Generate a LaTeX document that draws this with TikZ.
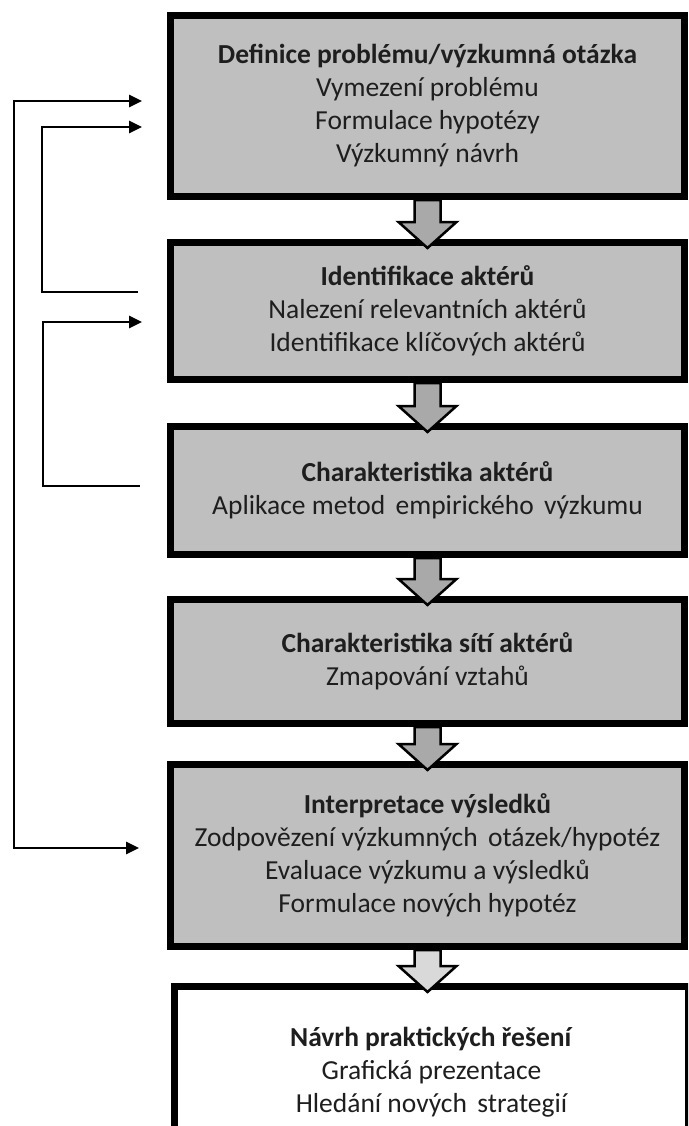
\documentclass[tikz,border=0pt]{standalone}
\usepackage{fontspec}
\setmainfont{Carlito}
\usetikzlibrary{arrows.meta, calc}
\definecolor{boxgray}{HTML}{BFBFBF}
\definecolor{arrgray}{HTML}{A9A9A9}
\definecolor{arrlight}{HTML}{D9D9D9}
\definecolor{txtgray}{HTML}{1E1E1E}
\newcommand{\wsp}{\ \hspace{0.15em}}

\begin{document}
\begin{tikzpicture}[x=1pt, y=-1pt,
    stage/.style={draw=black, line width=7pt, fill=boxgray, minimum width=514pt,
        align=center, text=txtgray, font=\fontsize{27.5}{33}\selectfont},
    fback/.style={line width=2.6pt, -{Triangle[length=13pt,width=12pt]}},
    fbboth/.style={line width=2.6pt, {Triangle[length=13pt,width=12pt]}-{Triangle[length=13pt,width=12pt]}},
    blk/.style={draw=black, line width=2.5pt, line join=miter}]
        \clip (0,0) rectangle (688,1126);

        % Stages
        \node[stage, minimum height=181pt] (def) at (427.5,106)
            {\textbf{Definice problému/výzkumná otázka}\\Vymezení problému\\Formulace hypotézy\\Výzkumný návrh};
        \node[stage, minimum height=137pt] (ident) at (427.5,311)
            {\textbf{Identifikace aktérů}\\Nalezení relevantních aktérů\\Identifikace klíčových aktérů};
        \node[stage, minimum height=128pt] (charakt) at (427.5,490.5)
            {\textbf{Charakteristika aktérů}\\Aplikace metod\wsp empirického\wsp výzkumu};
        \node[stage, minimum height=124pt] (site) at (427.5,661.5)
            {\textbf{Charakteristika sítí aktérů}\\Zmapování vztahů};
        \node[stage, minimum height=182pt] (interp) at (427.5,855.5)
            {\textbf{Interpretace výsledků}\\Zodpovězení výzkumných\wsp otázek/hypotéz\\Evaluace výzkumu a výsledků\\Formulace nových hypotéz};
        \node[stage, fill=white, minimum height=171pt] (navrh) at (431.5,1072)
            {\textbf{Návrh praktických řešení}\\Grafická prezentace\\Hledání nových\wsp strategií};

        % Block arrows between stages
        \foreach \a/\b/\c in {def/ident/arrgray, ident/charakt/arrgray, charakt/site/arrgray,
                site/interp/arrgray, interp/navrh/arrlight}
            \draw[blk, fill=\c] let \p1=(\a.south), \p2=(\b.north) in
                (\x1-13pt,\y1) -- (\x1+13pt,\y1) -- (\x1+13pt,\y2+17pt) -- (\x1+29pt,\y2+17pt)
                -- (\x1,\y2-9pt) -- (\x1-29pt,\y2+17pt) -- (\x1-13pt,\y2+17pt) -- cycle;

        % Feedback loops
        \coordinate (defin1) at (142,101);
        \coordinate (defin2) at (142,127);
        \coordinate (identout) at (138,292);
        \coordinate (identin) at (142,322);
        \coordinate (charout) at (140,486);
        \coordinate (interpin) at (139,848);

        \draw[fbboth] (defin1) -- (14,101) |- (interpin);
        \draw[fback] (identout) -- (42,292) |- (defin2);
        \draw[fback] (charout) -- (43,486) |- (identin);
\end{tikzpicture}
\end{document}
